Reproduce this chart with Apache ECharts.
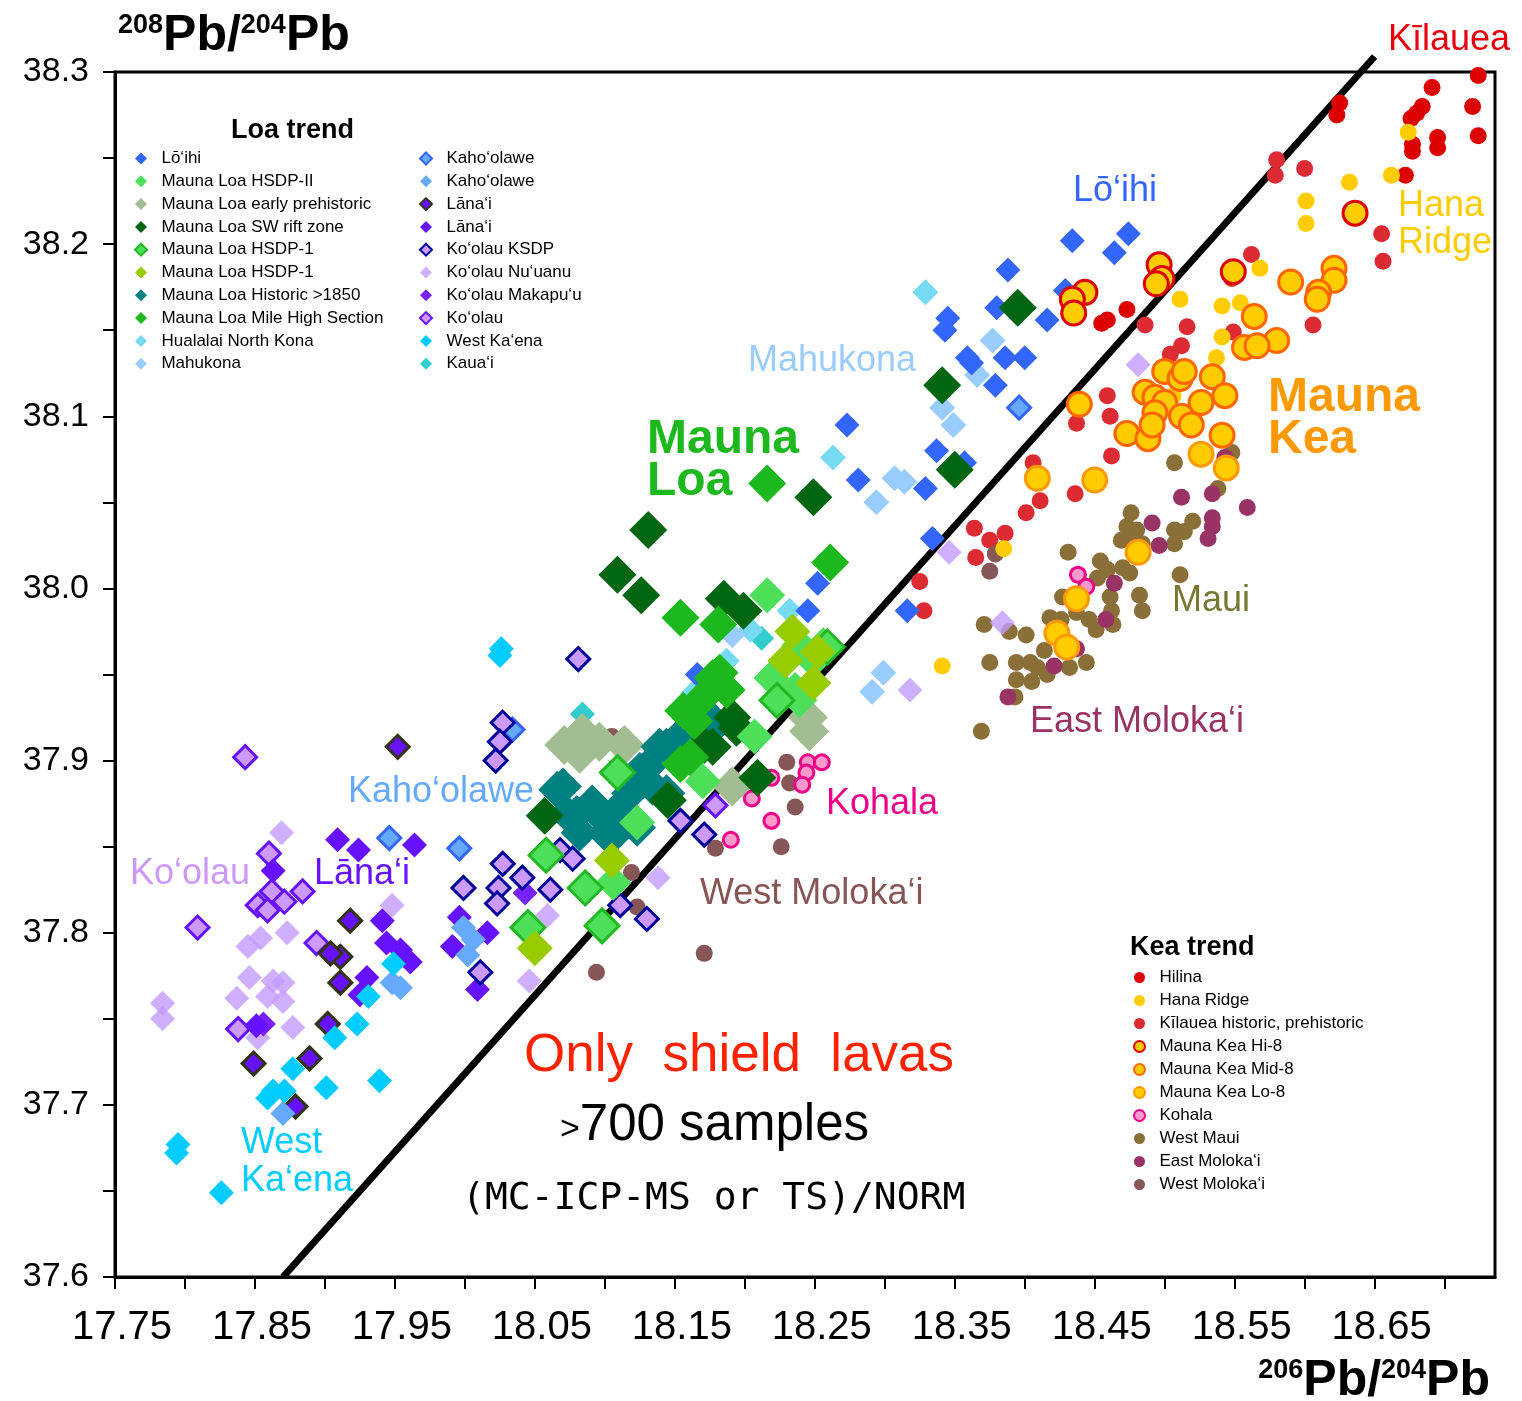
<!DOCTYPE html>
<html lang="en">
<head>
<meta charset="utf-8">
<title>208Pb/204Pb vs 206Pb/204Pb - Hawaiian shield lavas</title>
<script src="https://cdn.jsdelivr.net/npm/echarts@6/dist/echarts.min.js"></script>
<style>
  html, body { margin: 0; padding: 0; background: #fff; }
  #chart { width: 1522px; height: 1401px; }
</style>
</head>
<body>
<div id="chart"></div>
<script>
// ---- Loa trend (diamonds), [206Pb/204Pb, 208Pb/204Pb] ----
const loihi = [[18.434,38.202],[18.474,38.206],[18.464,38.195],[18.388,38.185],[18.429,38.173],[18.416,38.156],
  [18.380,38.163],[18.345,38.157],[18.343,38.150],[18.359,38.134],[18.386,38.134],[18.400,38.134],[18.379,38.118],
  [18.362,38.131],[18.273,38.095],[18.281,38.063],[18.337,38.080],[18.329,38.058],[18.334,38.029],[18.357,38.073],
  [18.316,37.987],[18.252,38.003],[18.245,37.987],[18.166,37.950]];
const hsdp2 = [[18.216,37.996],[18.207,37.914],[18.170,37.888],[18.123,37.864],[18.106,37.829],[18.249,37.958],
  [18.236,37.941],[18.219,37.948],[18.239,37.967],[18.256,37.967],[18.239,37.935]];
const earlyPre = [[18.084,37.916],[18.096,37.911],[18.114,37.909],[18.071,37.909],[18.245,37.925],[18.246,37.917],
  [18.191,37.885],[18.082,37.904]];
const swRift = [[18.395,38.163],[18.341,38.118],[18.350,38.069],[18.249,38.053],[18.131,38.034],[18.109,38.008],
  [18.126,37.996],[18.185,37.994],[18.199,37.987],[18.194,37.919],[18.057,37.868],[18.209,37.890],[18.171,37.909],
  [18.145,37.877],[18.177,37.908],[18.191,37.925]];
const hsdp1Out = [[18.058,37.845],[18.109,37.893],[18.223,37.935],[18.259,37.966],[18.045,37.803],[18.098,37.804],
  [18.086,37.826]];
const hsdp1Yg = [[18.234,37.975],[18.229,37.958],[18.249,37.945],[18.252,37.963],[18.050,37.791],[18.105,37.842]];
const historic = [[18.070,37.885],[18.080,37.869],[18.091,37.875],[18.106,37.867],[18.118,37.881],[18.134,37.885],
  [18.144,37.908],[18.154,37.914],[18.166,37.916],[18.177,37.919],[18.082,37.858],[18.101,37.858],[18.125,37.894],
  [18.066,37.883],[18.073,37.869],[18.096,37.869],[18.111,37.873],[18.130,37.896],[18.139,37.908],[18.156,37.916],
  [18.175,37.925],[18.123,37.861],[18.104,37.855],[18.144,37.881]];
const mileHigh = [[18.216,38.061],[18.261,38.015],[18.154,37.983],[18.181,37.979],[18.177,37.948],[18.173,37.939],
  [18.156,37.929],[18.154,37.898],[18.187,37.941],[18.164,37.923],[18.182,37.951],[18.166,37.933],[18.161,37.902]];
const hualalai = [[18.329,38.172],[18.263,38.076],[18.232,37.987],[18.204,37.976],[18.187,37.958],[18.177,37.948],
  [18.163,37.939]];
const mahukona = [[18.377,38.144],[18.366,38.124],[18.341,38.105],[18.349,38.095],[18.307,38.064],[18.314,38.062],
  [18.294,38.050],[18.299,37.951],[18.291,37.940],[18.191,37.973]];
const kahoOut = [[18.396,38.105],[17.946,37.855],[17.996,37.849],[18.034,37.918]];
const kaho = [[17.999,37.803],[18.006,37.796],[18.002,37.787],[17.954,37.768],[17.948,37.771],[17.870,37.695]];
const lanaiOut = [[17.952,37.908],[17.918,37.807],[17.911,37.786],[17.904,37.788],[17.911,37.771],[17.902,37.747],
  [17.849,37.724],[17.889,37.727],[17.879,37.699]];
const lanai = [[17.909,37.854],[17.924,37.848],[17.964,37.851],[17.863,37.836],[17.941,37.807],[17.944,37.794],
  [17.954,37.790],[17.961,37.783],[17.930,37.774],[17.925,37.764],[17.851,37.746],[17.991,37.792],[18.009,37.767],
  [18.016,37.800],[17.996,37.809]];
const ksdp = [[18.081,37.959],[18.027,37.922],[18.025,37.911],[18.022,37.900],[18.027,37.840],[18.041,37.832],
  [17.999,37.826],[18.024,37.826],[18.023,37.817],[18.011,37.777],[18.171,37.857],[18.154,37.865],[18.130,37.808],
  [18.111,37.816],[18.068,37.848],[18.077,37.843],[18.061,37.825]];
const nuuanu = [[17.869,37.858],[17.948,37.816],[17.784,37.759],[17.784,37.750],[17.845,37.792],[17.854,37.797],
  [17.846,37.774],[17.863,37.772],[17.870,37.771],[17.859,37.763],[17.837,37.762],[17.870,37.760],[17.852,37.739],
  [17.877,37.745],[18.046,37.772],[17.873,37.800],[18.481,38.130],[18.384,37.980],[18.318,37.941],[18.346,38.021],
  [18.138,37.832],[18.059,37.810]];
const makapuu = [[17.856,37.747],[18.043,37.823]];
const koolau = [[17.843,37.902],[17.809,37.803],[17.860,37.846],[17.862,37.824],[17.884,37.824],[17.871,37.818],
  [17.852,37.816],[17.859,37.813],[17.894,37.794],[17.838,37.744],[18.179,37.874]];
const westKaena = [[18.026,37.965],[18.025,37.961],[17.949,37.782],[17.931,37.763],[17.923,37.747],[17.907,37.739],
  [17.877,37.721],[17.863,37.708],[17.871,37.708],[17.901,37.710],[17.939,37.714],[17.795,37.677],[17.794,37.672],
  [17.826,37.649],[17.859,37.704]];
const kauai = [[18.084,37.927],[18.212,37.971],[18.186,37.957]];

// ---- Kea trend (circles) ----
const hilina = [[18.724,38.298],[18.691,38.291],[18.684,38.280],[18.720,38.280],[18.680,38.276],[18.676,38.273],
  [18.695,38.262],[18.724,38.263],[18.677,38.258],[18.677,38.254],[18.695,38.256],[18.672,38.240],[18.625,38.282],
  [18.623,38.275],[18.473,38.162],[18.459,38.156],[18.455,38.154]];
const hanaRidge = [[18.674,38.265],[18.662,38.240],[18.632,38.236],[18.601,38.225],[18.601,38.212],[18.568,38.186],
  [18.511,38.168],[18.541,38.164],[18.554,38.166],[18.541,38.146],[18.537,38.134],[18.506,38.112],[18.385,38.023],
  [18.341,37.955]];
const kilauea = [[18.580,38.249],[18.579,38.240],[18.600,38.244],[18.655,38.206],[18.656,38.190],[18.562,38.194],
  [18.486,38.153],[18.516,38.152],[18.512,38.141],[18.504,38.136],[18.549,38.149],[18.606,38.153],[18.459,38.112],
  [18.461,38.100],[18.437,38.096],[18.462,38.077],[18.406,38.073],[18.436,38.055],[18.411,38.051],[18.401,38.044],
  [18.386,38.032],[18.364,38.035],[18.375,38.028],[18.365,38.018],[18.325,38.004],[18.328,37.987],[18.548,38.180]];
const mkHi8 = [[18.636,38.218],[18.549,38.184],[18.496,38.188],[18.498,38.180],[18.494,38.177],[18.443,38.172],
  [18.434,38.168],[18.435,38.160]];
const mkMid8 = [[18.621,38.186],[18.621,38.179],[18.610,38.172],[18.609,38.168],[18.590,38.178],[18.564,38.158],
  [18.580,38.144],[18.557,38.140],[18.566,38.141],[18.500,38.126],[18.511,38.122],[18.514,38.126],[18.534,38.123],
  [18.486,38.114],[18.493,38.111],[18.500,38.108],[18.526,38.108],[18.543,38.112],[18.493,38.102],[18.512,38.100],
  [18.519,38.095],[18.473,38.090],[18.488,38.087],[18.491,38.095],[18.541,38.089],[18.439,38.107]];
const mkLo8 = [[18.544,38.070],[18.526,38.078],[18.450,38.063],[18.409,38.064],[18.481,38.021],[18.437,37.994],
  [18.423,37.974],[18.430,37.966]];
const kohala = [[18.245,37.899],[18.255,37.899],[18.244,37.893],[18.241,37.886],[18.219,37.865],[18.205,37.878],
  [18.190,37.854],[18.219,37.890],[18.438,38.008],[18.444,38.001]];
const westMaui = [[18.507,38.073],[18.538,38.058],[18.548,38.079],[18.476,38.044],[18.473,38.036],[18.480,38.034],
  [18.469,38.028],[18.477,38.028],[18.484,38.026],[18.507,38.034],[18.514,38.033],[18.520,38.039],[18.507,38.026],
  [18.431,38.021],[18.454,38.016],[18.459,38.011],[18.470,38.012],[18.475,38.009],[18.452,38.006],[18.511,38.008],
  [18.482,37.996],[18.484,37.987],[18.461,37.995],[18.462,37.987],[18.463,37.979],[18.451,37.976],[18.446,37.982],
  [18.437,37.986],[18.427,37.995],[18.426,37.982],[18.418,37.983],[18.371,37.979],[18.389,37.975],[18.401,37.973],
  [18.414,37.964],[18.404,37.957],[18.394,37.957],[18.409,37.954],[18.416,37.950],[18.432,37.954],[18.444,37.957],
  [18.394,37.947],[18.405,37.946],[18.393,37.937],[18.375,37.957],[18.369,37.917]];
const eastMolokai = [[18.543,38.076],[18.512,38.053],[18.534,38.055],[18.559,38.047],[18.491,38.038],[18.534,38.041],
  [18.534,38.036],[18.531,38.029],[18.496,38.025],[18.464,38.003],[18.458,37.982],[18.437,37.965],[18.421,37.955],
  [18.388,37.937]];
const westMolokai = [[18.230,37.899],[18.232,37.887],[18.236,37.873],[18.226,37.850],[18.179,37.849],[18.171,37.788],
  [18.379,38.020],[18.375,38.010],[18.123,37.815],[18.094,37.777],[18.119,37.835],[18.105,37.914]];

// reference line (Loa / Kea divide)
const divideLine = [[17.870,37.600],[18.650,38.309]];

const xTicks = { min: 17.75, max: 18.736, step: 0.05 };
const yTicks = { min: 37.6, max: 38.3, step: 0.05 };

const FONT = "'Liberation Sans', Arial, Helvetica, sans-serif";

function pts(name, data, symbol, size, fill, stroke, sw, opacity) {
  return {
    type: 'scatter', name: name, data: data, symbol: symbol, symbolSize: size,
    itemStyle: { color: fill, borderColor: stroke || fill, borderWidth: stroke ? sw : 0, opacity: opacity == null ? 1 : opacity },
    emphasis: { disabled: true }, silent: true
  };
}

const D = 'diamond', C = 'circle';
const series = [
  { type: 'line', name: 'divide', data: divideLine, symbol: 'none', clip: false, silent: true,
    lineStyle: { color: '#000', width: 7 }, z: 1 },
  // Kea groups that sit under the Loa diamonds
  pts('Kīlauea historic, prehistoric', kilauea, C, 17, '#dd2b33'),
  pts('West Maui', westMaui, C, 17, '#8b6f38'),
  pts('East Moloka‘i', eastMolokai, C, 17, '#993366'),
  pts('West Moloka‘i', westMolokai, C, 17, '#875656'),
  pts('Kohala', kohala, C, 15, '#ff99cc', '#ee0088', 3),
  // Loa trend
  pts('Ko‘olau Nu‘uanu', nuuanu, D, 25, '#c39bff', null, 0, 0.8),
  pts('Ko‘olau', koolau, D, 23, '#cc99ff', '#6611ff', 3),
  pts('Ko‘olau Makapu‘u', makapuu, D, 25, '#7722ff'),
  pts('Lāna‘i\u200b', lanai, D, 25, '#6611ff'),
  pts('Lāna‘i', lanaiOut, D, 23, '#6611ff', '#333311', 3),
  pts('Kaho‘olawe\u200b', kaho, D, 25, '#66aaff'),
  pts('Kaho‘olawe', kahoOut, D, 23, '#66aaff', '#3366ff', 3),
  pts('Ko‘olau KSDP', ksdp, D, 23, '#cc99ff', '#000099', 3),
  pts('West Ka‘ena', westKaena, D, 25, '#00ccff'),
  pts('Kaua‘i', kauai, D, 25, '#33cccc'),
  pts('Hualalai North Kona', hualalai, D, 26, '#77daf3'),
  pts('Mahukona', mahukona, D, 26, '#99ccff'),
  pts('Lō‘ihi', loihi, D, 25, '#3366ff'),
  pts('Mauna Loa early prehistoric', earlyPre, D, 40, '#a3bd92'),
  pts('Mauna Loa Historic >1850', historic, D, 38, '#008080'),
  pts('Mauna Loa SW rift zone', swRift, D, 38, '#006611'),
  pts('Mauna Loa Mile High Section', mileHigh, D, 38, '#1db81d'),
  pts('Mauna Loa HSDP-II', hsdp2, D, 36, '#4ddf5a'),
  pts('Mauna Loa HSDP-1', hsdp1Out, D, 34, '#4ddf5a', '#22b822', 3),
  pts('Mauna Loa HSDP-1\u200b', hsdp1Yg, D, 36, '#99cc00'),
  // Kea groups drawn on top
  pts('Hilina', hilina, C, 17, '#dd0000'),
  pts('Hana Ridge', hanaRidge, C, 17, '#ffcc00'),
  pts('Mauna Kea Lo-8', mkLo8, C, 24, '#ffcc00', '#ff9900', 3),
  pts('Mauna Kea Mid-8', mkMid8, C, 24, '#ffcc00', '#ff6600', 3),
  pts('Mauna Kea Hi-8', mkHi8, C, 24, '#ffcc00', '#dd0000', 3)
];

const loaCol1 = ['Lō‘ihi', 'Mauna Loa HSDP-II', 'Mauna Loa early prehistoric', 'Mauna Loa SW rift zone',
  'Mauna Loa HSDP-1', 'Mauna Loa HSDP-1\u200b', 'Mauna Loa Historic >1850', 'Mauna Loa Mile High Section',
  'Hualalai North Kona', 'Mahukona'];
const loaCol2 = ['Kaho‘olawe', 'Kaho‘olawe\u200b', 'Lāna‘i', 'Lāna‘i\u200b', 'Ko‘olau KSDP', 'Ko‘olau Nu‘uanu',
  'Ko‘olau Makapu‘u', 'Ko‘olau', 'West Ka‘ena', 'Kaua‘i'];
const keaNames = ['Hilina', 'Hana Ridge', 'Kīlauea historic, prehistoric', 'Mauna Kea Hi-8', 'Mauna Kea Mid-8',
  'Mauna Kea Lo-8', 'Kohala', 'West Maui', 'East Moloka‘i', 'West Moloka‘i'];

function legendBlock(names, left, top, size, gap, pad) {
  return {
    data: names, orient: 'vertical', left: left, top: top, itemWidth: size, itemHeight: size,
    itemGap: gap, selectedMode: false, padding: 0,
    formatter: function (n) { return pad + n; },
    textStyle: { fontSize: 17, color: '#000', fontFamily: FONT }
  };
}

function label(text, x, y, size, color, bold, family) {
  return { type: 'text', x: x, y: y, silent: true, z: 100,
    style: { text: text, fill: color, font: (bold ? 'bold ' : '') + size + 'px ' + (family || FONT),
      verticalAlign: 'middle', textVerticalAlign: 'middle' } };
}

function isoTitle(x, y, align, a, b) {
  return { type: 'text', x: x, y: y, silent: true, z: 100,
    style: { text: '{s|' + a + '}{b|Pb/}{s|' + b + '}{b|Pb}', align: align, textAlign: align,
      verticalAlign: 'middle', textVerticalAlign: 'middle',
      rich: {
        s: { fontSize: 27, fontWeight: 'bold', fontFamily: FONT, fill: '#000', color: '#000', verticalAlign: 'top', lineHeight: 28 },
        b: { fontSize: 50, fontWeight: 'bold', fontFamily: FONT, fill: '#000', color: '#000', lineHeight: 48 }
      } } };
}

const graphics = [
  isoTitle(118, 36, 'left', '208', '204'),
  isoTitle(1490, 1381, 'right', '206', '204'),
  label('Loa trend', 231, 131, 27, '#000', true),
  label('Kea trend', 1130, 948, 27, '#000', true),
  label('Kīlauea', 1388, 40, 36, '#e8000b'),
  label('Hana', 1398, 206, 36, '#ffcc00'),
  label('Ridge', 1398, 243, 36, '#ffcc00'),
  label('Lō‘ihi', 1073, 191, 36, '#3366ff'),
  label('Mahukona', 748, 361, 36, '#99ccff'),
  label('Mauna', 647, 440, 48, '#1db81d', true),
  label('Loa', 647, 482, 48, '#1db81d', true),
  label('Mauna', 1268, 398, 48, '#ff9900', true),
  label('Kea', 1268, 440, 48, '#ff9900', true),
  label('Maui', 1172, 601, 36, '#777733'),
  label('East Moloka‘i', 1030, 722, 36, '#993366'),
  label('Kohala', 826, 804, 36, '#ee0088'),
  label('West Moloka‘i', 700, 894, 36, '#885555'),
  label('Kaho‘olawe', 348, 792, 36, '#66aaff'),
  label('Ko‘olau', 130, 874, 36, '#cc99ff'),
  label('Lāna‘i', 314, 874, 36, '#6611ff'),
  label('West', 241, 1143, 36, '#00ccff'),
  label('Ka‘ena', 241, 1181, 36, '#00ccff'),
  label('Only  shield  lavas', 524, 1056, 53, '#ff2200'),
  { type: 'text', x: 560, y: 1126, silent: true, z: 100,
    style: { text: '{s|>}{b|700 samples}', verticalAlign: 'middle', textVerticalAlign: 'middle',
      rich: { s: { fontSize: 34, fontFamily: FONT, fill: '#000', color: '#000', padding: [8, 0, 0, 0] },
              b: { fontSize: 51, fontFamily: FONT, fill: '#000', color: '#000' } } } },
  label('(MC-ICP-MS or TS)/NORM', 462, 1199, 38, '#000', false, "'DejaVu Sans Mono', monospace")
];

const chart = echarts.init(document.getElementById('chart'), null, { renderer: 'canvas' });
chart.setOption({
  animation: false,
  backgroundColor: '#fff',
  grid: { left: 115, right: 27, top: 72, bottom: 124, show: true, borderColor: '#000', borderWidth: 3,
    backgroundColor: 'transparent' },
  xAxis: {
    type: 'value', min: xTicks.min, max: xTicks.max, interval: xTicks.step,
    axisLine: { show: true, lineStyle: { color: '#000', width: 3 } },
    axisTick: { show: true, length: 12, lineStyle: { color: '#000', width: 2 } },
    splitLine: { show: false },
    axisLabel: { margin: 31, fontSize: 40, color: '#000', fontFamily: FONT, showMaxLabel: false,
      padding: [0, 0, 0, 14],
      formatter: function (v) { return (Math.round(v * 100) % 10 === 5 && v < 18.69) ? v.toFixed(2) : ''; } }
  },
  yAxis: {
    type: 'value', min: yTicks.min, max: yTicks.max, interval: yTicks.step,
    axisLine: { show: true, lineStyle: { color: '#000', width: 3 } },
    axisTick: { show: true, length: 12, lineStyle: { color: '#000', width: 2 } },
    splitLine: { show: false },
    axisLabel: { margin: 26, fontSize: 34, color: '#000', fontFamily: FONT,
      formatter: function (v) { return Math.round(v * 100) % 10 === 0 ? v.toFixed(1) : ''; } }
  },
  legend: [
    legendBlock(loaCol1, 134, 150, 12, 5.8, '  '),
    legendBlock(loaCol2, 419, 150, 12, 5.8, '  '),
    legendBlock(keaNames, 1133, 969, 11, 6, '  ')
  ],
  graphic: graphics,
  series: series
});
</script>
</body>
</html>
